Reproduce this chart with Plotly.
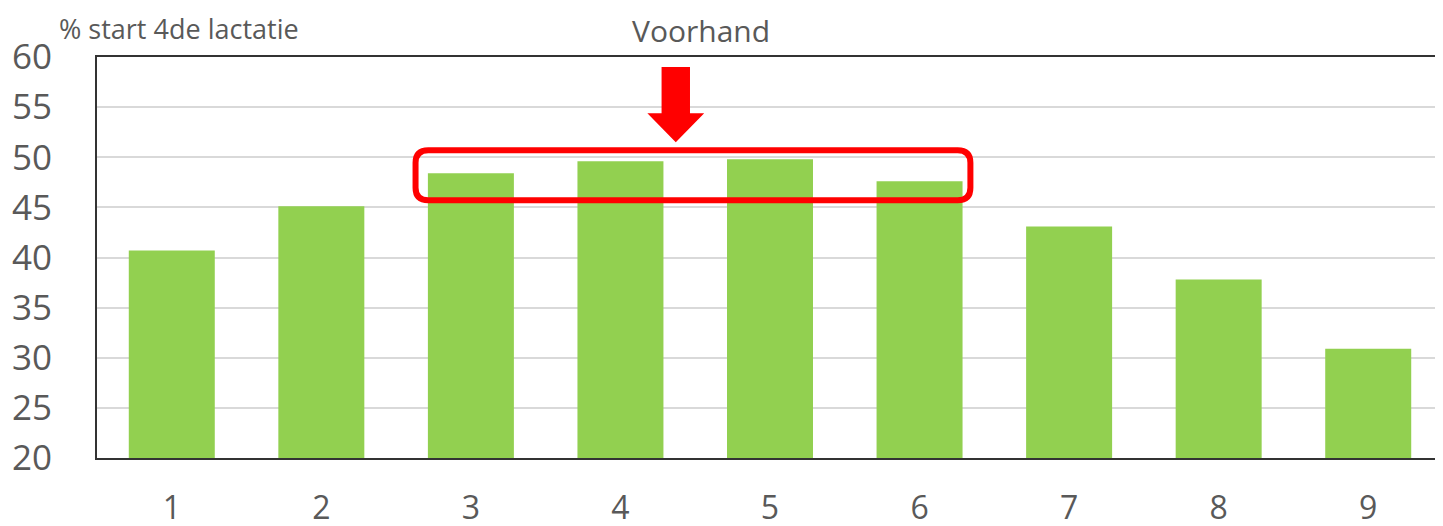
import plotly.graph_objects as go

categories = [1, 2, 3, 4, 5, 6, 7, 8, 9]
values = [40.7, 45.1, 48.4, 49.6, 49.8, 47.6, 43.1, 37.8, 30.9]
y_ticks = [20, 25, 30, 35, 40, 45, 50, 55, 60]
y_title = "% start 4de lactatie"
top_label = "Voorhand"

fig = go.Figure(go.Bar(x=categories, y=values, marker_color="#92D050",
                       marker_line_width=0, width=0.575))

font = "Open Sans, Segoe UI, sans-serif"
# page body adds ~8px offset; margins compensate
fig.update_layout(
    width=1443, height=526,
    margin=dict(l=89, r=8, t=49, b=76),
    plot_bgcolor="white", paper_bgcolor="white",
    showlegend=False,
    font=dict(family=font, color="#595959"),
)
fig.update_xaxes(range=[0.5, 9.5], tickvals=categories, ticktext=[str(c) for c in categories],
                 showgrid=False, showline=True, linecolor="#333333", linewidth=2, mirror=True,
                 ticks="", tickfont=dict(size=32, color="#595959"), ticklabelstandoff=21,
                 zeroline=False, automargin=False)
fig.update_yaxes(range=[20, 60], tickvals=y_ticks, showgrid=True, gridcolor="#D9D9D9", gridwidth=1.5,
                 showline=True, linecolor="#333333", linewidth=2, mirror=False,
                 ticks="", tickfont=dict(size=35, color="#595959"), ticklabelstandoff=36,
                 zeroline=False, automargin=False)

# faint right border
fig.add_shape(type="line", xref="paper", yref="paper", x0=1, x1=1, y0=0, y1=1,
              line=dict(color="#BFBFBF", width=1.5), layer="above")

# rounded red rectangle around bars 3-6
x0, x1, y0, y1 = 2.63, 6.34, 45.7, 50.7
rx, ry = 0.085, 1.25
path = (f"M {x0+rx},{y1} L {x1-rx},{y1} Q {x1},{y1} {x1},{y1-ry} "
        f"L {x1},{y0+ry} Q {x1},{y0} {x1-rx},{y0} L {x0+rx},{y0} "
        f"Q {x0},{y0} {x0},{y0+ry} L {x0},{y1-ry} Q {x0},{y1} {x0+rx},{y1} Z")
fig.add_shape(type="path", path=path, xref="x", yref="y",
              line=dict(color="#FF0000", width=6), fillcolor="rgba(0,0,0,0)", layer="above")

# red down arrow
ax = 4.37
arrow = (f"M {ax-0.095},59.0 L {ax+0.095},59.0 L {ax+0.095},54.4 L {ax+0.19},54.4 "
         f"L {ax},51.5 L {ax-0.19},54.4 L {ax-0.095},54.4 Z")
fig.add_shape(type="path", path=arrow, xref="x", yref="y",
              line=dict(color="#FF0000", width=0), fillcolor="#FF0000", layer="above")

fig_top = 1 + 49 / 401  # top edge of the figure in paper units
fig.add_annotation(text=top_label, xref="paper", yref="paper", x=0.449, y=fig_top, yshift=-1,
                   xanchor="center", yanchor="top", showarrow=False, borderpad=0,
                   font=dict(size=30, color="#595959", family=font))
fig.add_annotation(text=y_title, xref="paper", yref="paper", x=-0.029, y=fig_top, yshift=-1,
                   xanchor="left", yanchor="top", showarrow=False, borderpad=0,
                   font=dict(size=27, color="#595959", family=font))

fig.write_html("out.html")
